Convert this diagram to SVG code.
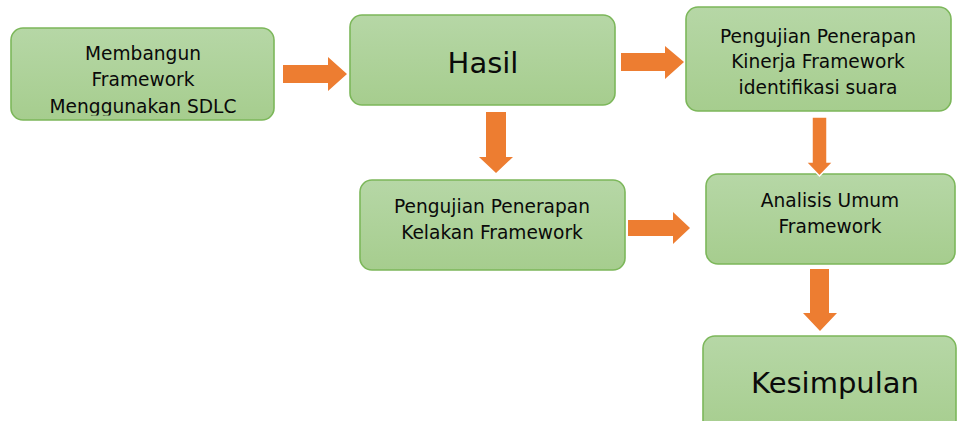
<svg xmlns="http://www.w3.org/2000/svg" width="958" height="421" viewBox="0 0 958 421">
<defs>
<linearGradient id="g" x1="0" y1="0" x2="0" y2="1">
<stop offset="0" stop-color="#b6d7a6"/>
<stop offset="1" stop-color="#a6cd8e"/>
</linearGradient>
<clipPath id="c1"><rect x="0" y="0" width="300" height="115.5"/></clipPath>
</defs>
<style>
.box{fill:url(#g);stroke:#7cb75a;stroke-width:1.6}
.t{font-family:"DejaVu Sans",Verdana,sans-serif;font-size:18.6px;fill:#0a0a0a;text-anchor:middle}
.big{font-size:29px}
.arr{fill:#ed7d31}
.arrw{fill:#ed7d31;stroke:#fff;stroke-width:1.5}
</style>
<rect width="958" height="421" fill="#fff"/>
<g id="n1">
<rect class="box" x="11" y="28" width="263" height="92" rx="12"/>
<g clip-path="url(#c1)">
<text class="t" x="143" y="60">Membangun</text>
<text class="t" x="143" y="86">Framework</text>
<text class="t" x="143" y="113">Menggunakan SDLC</text>
</g>
</g>
<g id="n2">
<rect class="box" x="350" y="15" width="265" height="90" rx="12"/>
<text class="t big" x="483" y="73">Hasil</text>
</g>
<g id="n3">
<rect class="box" x="686" y="7" width="265" height="104" rx="12"/>
<text class="t" x="818" y="43">Pengujian Penerapan</text>
<text class="t" x="818" y="68">Kinerja Framework</text>
<text class="t" x="818" y="94">identifikasi suara</text>
</g>
<g id="n4">
<rect class="box" x="360" y="180" width="265" height="90" rx="12"/>
<text class="t" x="492" y="213">Pengujian Penerapan</text>
<text class="t" x="492" y="239">Kelakan Framework</text>
</g>
<g id="n5">
<rect class="box" x="706" y="174" width="249" height="90" rx="12"/>
<text class="t" x="830" y="207">Analisis Umum</text>
<text class="t" x="830" y="233">Framework</text>
</g>
<g id="n6">
<rect class="box" x="703" y="336" width="253" height="100" rx="12"/>
<text class="t big" x="835" y="393">Kesimpulan</text>
</g>
<g id="connectors">
<polygon class="arr" points="283,65 328,65 328,57 347,74 328,91 328,83 283,83"/>
<polygon class="arr" points="621,53 665,53 665,46 684,62 665,79 665,71 621,71"/>
<polygon class="arr" points="486,112 506,112 506,157 513,157 496,173 479,157 486,157"/>
<polygon class="arr" points="628,220 673,220 673,212 690,228 673,244 673,236 628,236"/>
<polygon class="arrw" points="812,117 827,117 827,162 833,162 819.5,176 806,162 812,162"/>
<polygon class="arr" points="810,269 829,269 829,313 837,313 820,331 803,313 810,313"/>
</g>
</svg>
